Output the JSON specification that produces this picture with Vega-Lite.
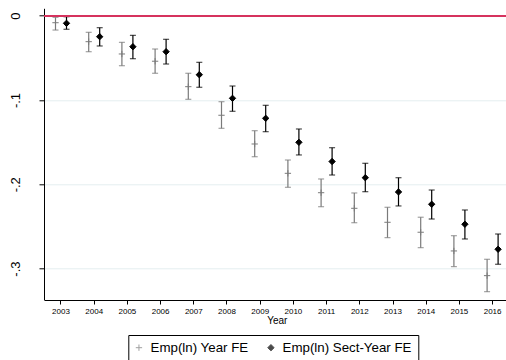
{
  "$schema": "https://vega.github.io/schema/vega-lite/v6.json",
  "width": 462,
  "height": 291.7,
  "autosize": {"type": "none"},
  "padding": {"left": 44, "top": 8.3, "right": 0, "bottom": 60},
  "background": "white",
  "config": {
    "view": {"stroke": null},
    "font": "Liberation Sans"
  },
  "data": {
    "values": [
      {"year": 2003, "series": "Emp(ln) Year FE", "est": -0.0083, "lo": -0.0170, "hi": -0.0019},
      {"year": 2004, "series": "Emp(ln) Year FE", "est": -0.0308, "lo": -0.0427, "hi": -0.0197},
      {"year": 2005, "series": "Emp(ln) Year FE", "est": -0.0454, "lo": -0.0593, "hi": -0.0316},
      {"year": 2006, "series": "Emp(ln) Year FE", "est": -0.0540, "lo": -0.0683, "hi": -0.0395},
      {"year": 2007, "series": "Emp(ln) Year FE", "est": -0.0842, "lo": -0.0992, "hi": -0.0683},
      {"year": 2008, "series": "Emp(ln) Year FE", "est": -0.1181, "lo": -0.1336, "hi": -0.1020},
      {"year": 2009, "series": "Emp(ln) Year FE", "est": -0.1522, "lo": -0.1673, "hi": -0.1364},
      {"year": 2010, "series": "Emp(ln) Year FE", "est": -0.1870, "lo": -0.2036, "hi": -0.1712},
      {"year": 2011, "series": "Emp(ln) Year FE", "est": -0.2100, "lo": -0.2266, "hi": -0.1937},
      {"year": 2012, "series": "Emp(ln) Year FE", "est": -0.2285, "lo": -0.2456, "hi": -0.2103},
      {"year": 2013, "series": "Emp(ln) Year FE", "est": -0.2451, "lo": -0.2633, "hi": -0.2273},
      {"year": 2014, "series": "Emp(ln) Year FE", "est": -0.2569, "lo": -0.2752, "hi": -0.2391},
      {"year": 2015, "series": "Emp(ln) Year FE", "est": -0.2791, "lo": -0.2977, "hi": -0.2610},
      {"year": 2016, "series": "Emp(ln) Year FE", "est": -0.3084, "lo": -0.3274, "hi": -0.2890},
      {"year": 2003, "series": "Emp(ln) Sect-Year FE", "est": -0.0090, "lo": -0.0161, "hi": -0.0012},
      {"year": 2004, "series": "Emp(ln) Sect-Year FE", "est": -0.0249, "lo": -0.0359, "hi": -0.0142},
      {"year": 2005, "series": "Emp(ln) Sect-Year FE", "est": -0.0368, "lo": -0.0510, "hi": -0.0233},
      {"year": 2006, "series": "Emp(ln) Sect-Year FE", "est": -0.0427, "lo": -0.0573, "hi": -0.0280},
      {"year": 2007, "series": "Emp(ln) Sect-Year FE", "est": -0.0700, "lo": -0.0849, "hi": -0.0553},
      {"year": 2008, "series": "Emp(ln) Sect-Year FE", "est": -0.0980, "lo": -0.1134, "hi": -0.0834},
      {"year": 2009, "series": "Emp(ln) Sect-Year FE", "est": -0.1217, "lo": -0.1376, "hi": -0.1063},
      {"year": 2010, "series": "Emp(ln) Sect-Year FE", "est": -0.1502, "lo": -0.1652, "hi": -0.1344},
      {"year": 2011, "series": "Emp(ln) Sect-Year FE", "est": -0.1730, "lo": -0.1890, "hi": -0.1566},
      {"year": 2012, "series": "Emp(ln) Sect-Year FE", "est": -0.1922, "lo": -0.2088, "hi": -0.1751},
      {"year": 2013, "series": "Emp(ln) Sect-Year FE", "est": -0.2091, "lo": -0.2257, "hi": -0.1922},
      {"year": 2014, "series": "Emp(ln) Sect-Year FE", "est": -0.2237, "lo": -0.2412, "hi": -0.2068},
      {"year": 2015, "series": "Emp(ln) Sect-Year FE", "est": -0.2474, "lo": -0.2649, "hi": -0.2305},
      {"year": 2016, "series": "Emp(ln) Sect-Year FE", "est": -0.2771, "lo": -0.2949, "hi": -0.2590}
    ]
  },
  "layer": [
    {
      "mark": {"type": "rule", "strokeWidth": 1.2},
      "encoding": {
        "x": {
          "field": "year", "type": "ordinal",
          "scale": {"type": "band", "domain": [2003,2004,2005,2006,2007,2008,2009,2010,2011,2012,2013,2014,2015,2016], "range": [0.4, 465.2], "paddingInner": 0, "paddingOuter": 0},
          "axis": {"title": "Year", "titleFontSize": 10, "titleFontWeight": "normal", "titlePadding": 0, "titleColor": "black",
                   "labelFontSize": 8, "labelAngle": 0, "labelColor": "black", "labelPadding": 3, "tickSize": 4,
                   "tickColor": "black", "domainColor": "black", "grid": false}
        },
        "xOffset": {"field": "series", "type": "nominal", "scale": {"type": "point", "domain": ["Emp(ln) Year FE", "Emp(ln) Sect-Year FE"], "range": [11.1, 22.1], "padding": 0}},
        "y": {
          "field": "lo", "type": "quantitative",
          "scale": {"domain": [-0.3373, 0.0088], "nice": false, "zero": false},
          "axis": {"title": null, "values": [0, -0.1, -0.2, -0.3],
                   "labelExpr": "datum.value == 0 ? '0' : '-.' + round(-datum.value * 10)",
                   "labelAngle": -90, "labelAlign": "center", "labelBaseline": "middle", "labelPadding": 24,
                   "labelFontSize": 13, "labelColor": "black", "tickSize": 5, "tickColor": "black", "domainColor": "black",
                   "grid": true, "gridColor": "#e4eef0", "gridWidth": 1}
        },
        "y2": {"field": "hi"},
        "color": {"field": "series", "type": "nominal", "scale": {"domain": ["Emp(ln) Year FE", "Emp(ln) Sect-Year FE"], "range": ["#7a7a7a", "#000000"]}}
      }
    },
    {
      "mark": {"type": "tick", "thickness": 1.2, "size": 6},
      "encoding": {
        "x": {"field": "year", "type": "ordinal"},
        "xOffset": {"field": "series", "type": "nominal"},
        "y": {"field": "lo", "type": "quantitative"},
        "color": {"field": "series", "type": "nominal"}
      }
    },
    {
      "mark": {"type": "tick", "thickness": 1.2, "size": 6},
      "encoding": {
        "x": {"field": "year", "type": "ordinal"},
        "xOffset": {"field": "series", "type": "nominal"},
        "y": {"field": "hi", "type": "quantitative"},
        "color": {"field": "series", "type": "nominal"}
      }
    },
    {
      "mark": {"type": "point", "filled": true, "size": 40, "strokeWidth": 1, "opacity": 1},
      "encoding": {
        "x": {"field": "year", "type": "ordinal"},
        "xOffset": {"field": "series", "type": "nominal"},
        "y": {"field": "est", "type": "quantitative"},
        "color": {"field": "series", "type": "nominal",
                 "legend": {"title": null, "orient": "none", "legendX": 84.3, "legendY": 326.7, "direction": "horizontal",
                            "strokeColor": "black", "fillColor": "white", "padding": 6, "labelFontSize": 13.3, "labelColor": "black",
                            "symbolSize": 40, "columnPadding": 16, "labelOffset": 5, "symbolOffset": -2, "symbolStrokeWidth": 1}},
        "stroke": {"field": "series", "type": "nominal", "scale": {"domain": ["Emp(ln) Year FE", "Emp(ln) Sect-Year FE"], "range": ["#7a7a7a", "#000000"]}},
        "shape": {"field": "series", "type": "nominal", "scale": {"domain": ["Emp(ln) Year FE", "Emp(ln) Sect-Year FE"], "range": ["M-1,0H1M0,-1V1", "diamond"]}}
      }
    },
    {
      "mark": {"type": "rule", "color": "#d6325e", "strokeWidth": 1.6},
      "encoding": {"y": {"datum": 0, "type": "quantitative"}}
    }
  ]
}
